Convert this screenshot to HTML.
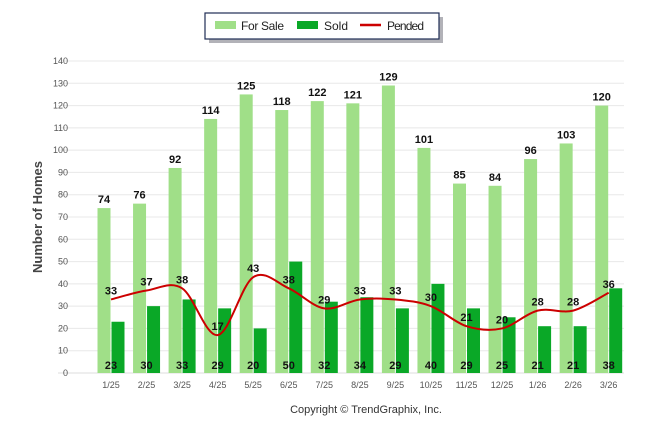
<!DOCTYPE html>
<html><head><meta charset="utf-8"><style>
body{margin:0;background:#fff;font-family:"Liberation Sans",sans-serif}
svg text{font-family:"Liberation Sans",sans-serif}
</style></head><body>
<svg id="c" width="646" height="434">
<g>
<rect x="207" y="15" width="234" height="26" fill="#223" transform="translate(2,2)" opacity="0.35"/>
<rect x="205" y="13" width="234" height="26" fill="#fff" stroke="#1f2d55" stroke-width="1.2"/>
<rect x="215" y="21" width="21" height="8" fill="#a0df88"/>
<text x="241" y="30" font-size="12" textLength="43" fill="#222">For Sale</text>
<rect x="297" y="21" width="21" height="8" fill="#0aa827"/>
<text x="324" y="30" font-size="12" fill="#222">Sold</text>
<line x1="360" y1="25" x2="381" y2="25" stroke="#c00" stroke-width="2.5"/>
<text x="387" y="30" font-size="12" textLength="37" fill="#222">Pended</text>
</g>
<text transform="translate(42,217) rotate(-90)" text-anchor="middle" font-size="13" font-weight="bold" fill="#444">Number of Homes</text>
<text x="366" y="413" text-anchor="middle" font-size="11" fill="#333">Copyright © TrendGraphix, Inc.</text>
<g id="grid"></g><g id="bars"></g><g id="line"></g><g id="labels"></g>
</svg>
<script>
const categories=["1/25","2/25","3/25","4/25","5/25","6/25","7/25","8/25","9/25","10/25","11/25","12/25","1/26","2/26","3/26"];
const forSale=[74,76,92,114,125,118,122,121,129,101,85,84,96,103,120];
const sold=[23,30,33,29,20,50,32,34,29,40,29,25,21,21,38];
const pended=[33,37,38,17,43,38,29,33,33,30,21,20,28,28,36];
const yTicks=[0,10,20,30,40,50,60,70,80,90,100,110,120,130,140];
const NS="http://www.w3.org/2000/svg";
const y=v=>373-v*(312/140);
const x=i=>111+i*35.55;
function mk(p,t,a){const e=document.createElementNS(NS,t);for(const k in a)e.setAttribute(k,a[k]);document.getElementById(p).appendChild(e);return e;}
yTicks.forEach(t=>{
 const l=mk('grid','line',{x1:58,x2:624,y1:y(t),y2:y(t),stroke:t?'#e8e8e8':'#ddd','stroke-width':1});
 
 
 const tx=mk('grid','text',{x:68,y:y(t)+3,'text-anchor':'end','font-size':9,fill:'#555'});tx.textContent=t;
 
 
});
categories.forEach((c,i)=>{
 const t=mk('grid','text',{x:x(i),y:388,'text-anchor':'middle','font-size':9,fill:'#555'});t.textContent=c;
 
 
 const b1=mk('bars','rect',{x:x(i)-13.5,y:y(forSale[i]),width:13,height:373-y(forSale[i]),fill:'#a0df88'});
 
 
 const b2=mk('bars','rect',{x:x(i)+0.5,y:y(sold[i]),width:13,height:373-y(sold[i]),fill:'#0aa827'});
 
 
 const l1=mk('labels','text',{x:x(i)-7,y:y(forSale[i])-5,'text-anchor':'middle','font-size':11,'font-weight':'bold',fill:'#111'});l1.textContent=forSale[i];
 
 
 const l2=mk('labels','text',{x:x(i),y:369,'text-anchor':'middle','font-size':11,'font-weight':'bold',fill:'#111'});l2.textContent=sold[i];
 
 
 const l3=mk('labels','text',{x:x(i),y:y(pended[i])-5,'text-anchor':'middle','font-size':11,'font-weight':'bold',fill:'#111'});l3.textContent=pended[i];
 
 
});
const pts=pended.map((v,i)=>[x(i),y(v)]);
let d='M'+pts[0][0]+','+pts[0][1];
for(let i=0;i<pts.length-1;i++){
 const p0=pts[Math.max(0,i-1)],p1=pts[i],p2=pts[i+1],p3=pts[Math.min(pts.length-1,i+2)];
 const c1=[p1[0]+(p2[0]-p0[0])/6,p1[1]+(p2[1]-p0[1])/6],c2=[p2[0]-(p3[0]-p1[0])/6,p2[1]-(p3[1]-p1[1])/6];
 d+=` C${c1[0]},${c1[1]} ${c2[0]},${c2[1]} ${p2[0]},${p2[1]}`;
}
const ln=mk('line','path',{d:d,fill:'none',stroke:'#c00','stroke-width':2});


</script>
</body></html>
